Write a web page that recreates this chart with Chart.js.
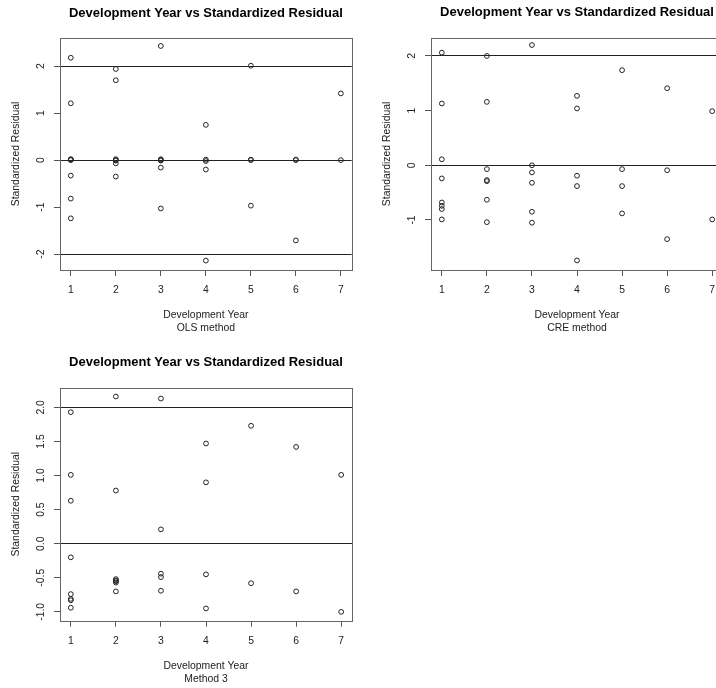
<!DOCTYPE html>
<html>
<head>
<meta charset="utf-8">
<script src="https://cdn.jsdelivr.net/npm/chart.js@4"></script>
<style>
html,body{margin:0;padding:0;background:#fff;overflow:hidden;width:716px;height:688px;}
canvas{position:absolute;}
</style>
</head>
<body>
<canvas id="c1" width="358" height="344" style="left:0;top:0"></canvas>
<canvas id="c2" width="380" height="344" style="left:358px;top:0"></canvas>
<canvas id="c3" width="358" height="344" style="left:0;top:344px"></canvas>
<script>
// ---- data ----
const xTicks = [1, 2, 3, 4, 5, 6, 7];

const olsYear  = [1,1,1,1,1,1,1,1, 2,2,2,2,2,2,2, 3,3,3,3,3,3, 4,4,4,4,4, 5,5,5,5, 6,6,6, 7,7];
const olsResid = [2.18,1.21,0.02,0.01,0.0,-0.33,-0.82,-1.24,
                  1.94,1.70,0.02,0.0,-0.01,-0.07,-0.35,
                  2.43,0.02,0.0,-0.01,-0.16,-1.03,
                  0.75,0.01,-0.02,-0.20,-2.14,
                  2.01,0.01,0.0,-0.97,
                  0.01,0.0,-1.71,
                  1.42,0.0];

const creYear  = [1,1,1,1,1,1,1,1, 2,2,2,2,2,2,2, 3,3,3,3,3,3, 4,4,4,4,4, 5,5,5,5, 6,6,6, 7,7];
const creResid = [2.06,1.13,0.11,-0.24,-0.68,-0.74,-0.80,-0.99,
                  2.00,1.16,-0.07,-0.27,-0.29,-0.63,-1.04,
                  2.20,0.00,-0.13,-0.32,-0.85,-1.05,
                  1.27,1.04,-0.19,-0.38,-1.74,
                  1.74,-0.07,-0.38,-0.88,
                  1.41,-0.09,-1.35,
                  0.99,-0.99];

const m3Year  = [1,1,1,1,1,1,1,1, 2,2,2,2,2,2,2, 3,3,3,3,3, 4,4,4,4, 5,5, 6,6, 7,7];
const m3Resid = [1.93,1.01,0.63,-0.20,-0.74,-0.81,-0.83,-0.94,
                 2.16,0.78,-0.52,-0.54,-0.55,-0.57,-0.70,
                 2.13,0.21,-0.44,-0.49,-0.69,
                 1.47,0.90,-0.45,-0.95,
                 1.73,-0.58,
                 1.42,-0.70,
                 1.01,-1.00];

const olsYTicks = [-2, -1, 0, 1, 2];
const creYTicks = [-1, 0, 1, 2];
const m3YTicks  = [-1, -0.5, 0, 0.5, 1, 1.5, 2];

const olsRefLines = [-2, 0, 2];
const creRefLines = [0, 2];
const m3RefLines  = [0, 2];

const mainTitle = 'Development Year vs Standardized Residual';
const xTitle = 'Development Year';
const yTitle = 'Standardized Residual';
const subTitles = ['OLS method', 'CRE method', 'Method 3'];

// ---- drawing ----
const FONT = "'Liberation Sans', Arial, Helvetica, sans-serif";
const FS = 10.4;

function fmt1(v){ return v.toFixed(1); }
function fmt0(v){ return String(v); }

function makePanel(id, years, resid, yTicks, refLines, yMin, yMax, sub, pad, xH, yW, labelFmt){
  const pts = years.map((x, i) => ({x: x, y: resid[i]}));
  const decor = {
    id: 'decor',
    afterDraw(chart){
      const ctx = chart.ctx, a = chart.chartArea, ys = chart.scales.y;
      ctx.save();
      // box
      ctx.strokeStyle = '#666';
      ctx.lineWidth = 1;
      ctx.strokeRect(Math.round(a.left) + 0.5, Math.round(a.top) + 0.5,
                     Math.round(a.right) - Math.round(a.left), Math.round(a.bottom) - Math.round(a.top));
      const cx = (a.left + a.right) / 2, cy = (a.top + a.bottom) / 2;
      // title
      ctx.fillStyle = '#000';
      ctx.font = 'bold 13px ' + FONT;
      ctx.textAlign = 'center';
      ctx.textBaseline = 'middle';
      ctx.fillText(mainTitle, cx, a.top - 25);
      // x title
      ctx.fillStyle = '#222';
      ctx.font = FS + 'px ' + FONT;
      ctx.fillText(xTitle, cx, a.bottom + 45.5);
      ctx.fillText(sub, cx, a.bottom + 58.5);
      // y tick labels (rotated)
      yTicks.forEach(v => {
        const py = ys.getPixelForValue(v);
        ctx.save();
        ctx.translate(a.left - 19, py);
        ctx.rotate(-Math.PI / 2);
        ctx.fillText(labelFmt(v), 0, 0);
        ctx.restore();
      });
      // y title
      ctx.save();
      ctx.translate(a.left - 44, cy);
      ctx.rotate(-Math.PI / 2);
      ctx.fillText(yTitle, 0, 0);
      ctx.restore();
      ctx.restore();
    }
  };
  return new Chart(document.getElementById(id), {
    type: 'scatter',
    data: { datasets: [{
      data: pts,
      pointStyle: 'circle',
      pointRadius: 2.4,
      pointHoverRadius: 2.4,
      borderWidth: 1,
      borderColor: '#222',
      backgroundColor: 'rgba(0,0,0,0)'
    }]},
    options: {
      responsive: false,
      animation: false,
      events: [],
      layout: { padding: pad },
      plugins: { legend: {display: false}, tooltip: {enabled: false}, title: {display: false} },
      scales: {
        x: {
          type: 'linear', min: 0.76, max: 7.24,
          afterBuildTicks(s){ s.ticks = xTicks.map(v => ({value: v})); },
          afterFit(s){ s.height = xH; },
          ticks: { font: {family: FONT, size: FS}, color: '#222', padding: 8, autoSkip: false, maxRotation: 0, minRotation: 0 },
          grid: { drawOnChartArea: false, drawTicks: true, tickLength: 6, color: '#555', tickColor: '#555' },
          border: { display: false }
        },
        y: {
          type: 'linear', min: yMin, max: yMax,
          afterBuildTicks(s){ s.ticks = yTicks.map(v => ({value: v})); },
          afterFit(s){ s.width = yW; },
          ticks: { display: false },
          grid: {
            drawOnChartArea: true, drawTicks: true, tickLength: 6,
            color: c => (c.tick && refLines.includes(c.tick.value)) ? '#222' : 'rgba(0,0,0,0)',
            tickColor: '#555', lineWidth: 1
          },
          border: { display: false }
        }
      }
    },
    plugins: [decor]
  });
}

makePanel('c1', olsYear, olsResid, olsYTicks, olsRefLines, -2.34, 2.60, subTitles[0],
          {top: 38, left: 0, right: 6.3, bottom: 0}, 74, 60, fmt0);
makePanel('c2', creYear, creResid, creYTicks, creRefLines, -1.915, 2.334, subTitles[1],
          {top: 37.7, left: 0, right: 15, bottom: 0}, 74, 73, fmt0);
makePanel('c3', m3Year, m3Resid, m3YTicks, m3RefLines, -1.13, 2.289, subTitles[2],
          {top: 43.7, left: 0, right: 6, bottom: 0}, 67.3, 60, fmt1);
</script>
</body>
</html>
